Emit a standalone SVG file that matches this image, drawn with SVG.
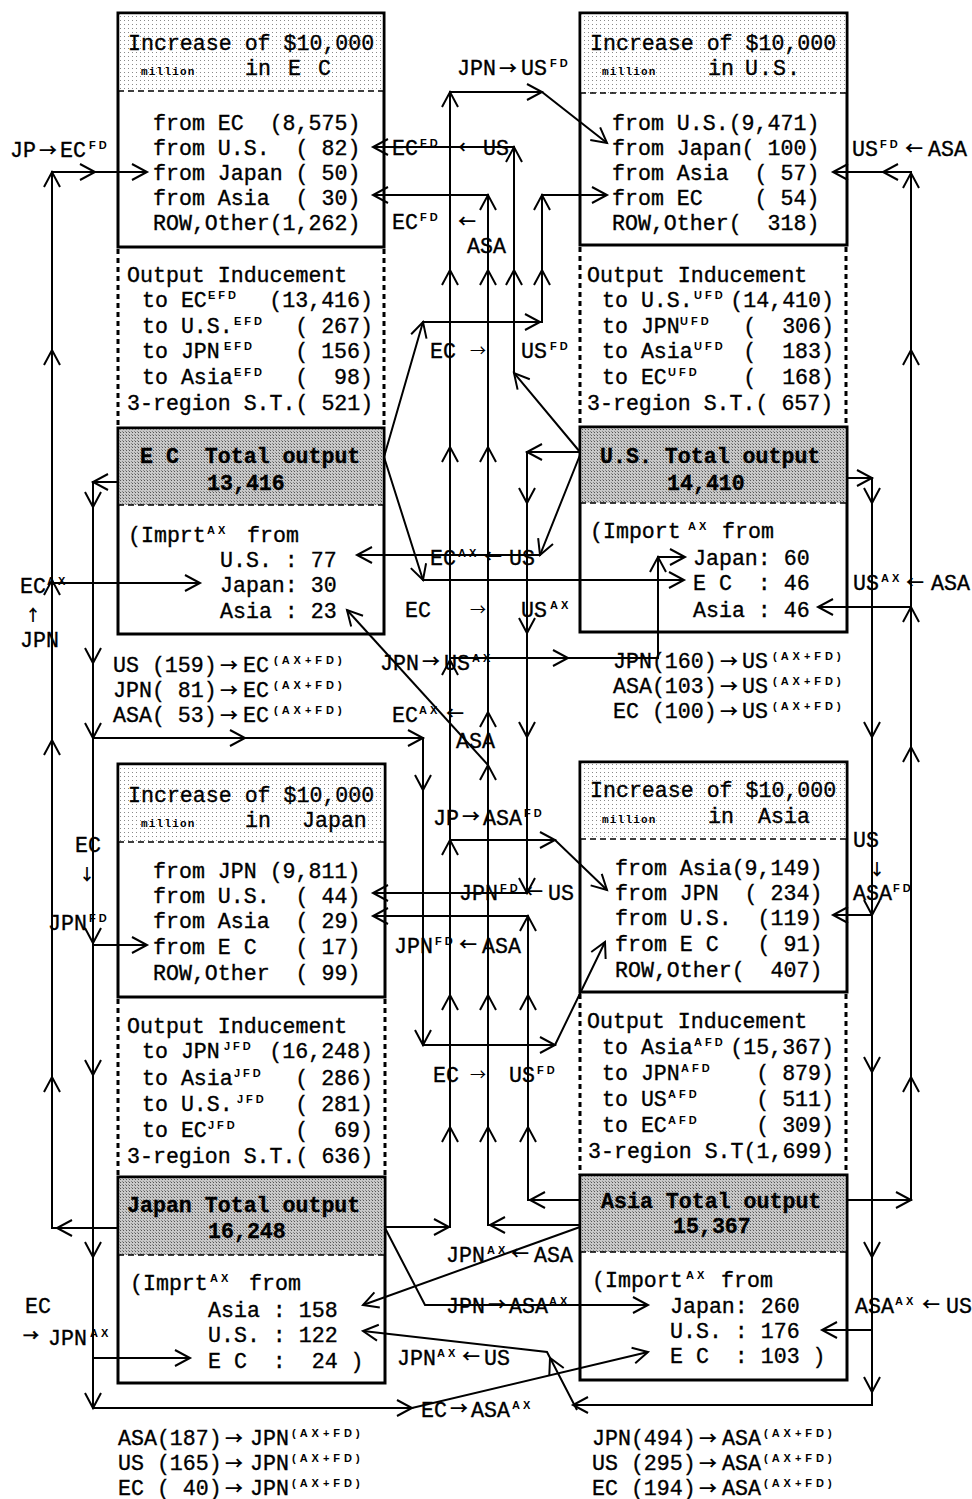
<svg xmlns="http://www.w3.org/2000/svg" xmlns:xlink="http://www.w3.org/1999/xlink" width="972" height="1499" viewBox="0 0 972 1499">
<defs>
<style>
.t{font-family:"Liberation Mono","DejaVu Sans Mono",monospace;font-size:21.6px;fill:#000;stroke:#000;stroke-width:0.35px}
.b{font-weight:bold}
.s{font-family:"Liberation Sans",Arial,sans-serif;font-size:11px;font-weight:bold;letter-spacing:3px;fill:#000;stroke:none}
.sp{font-family:"Liberation Sans",Arial,sans-serif;font-size:11px;font-weight:bold;letter-spacing:4px;fill:#000;stroke:none}
.a{font-family:"Noto Sans CJK JP","DejaVu Sans",sans-serif;font-size:18px;fill:#000;stroke:none;font-weight:bold}
.as{font-family:"Noto Sans CJK JP","DejaVu Sans",sans-serif;font-size:16px;fill:#000;stroke:none}
.av{font-family:"Noto Sans CJK JP","DejaVu Sans",sans-serif;font-size:16px;fill:#000;font-weight:bold}
.m{font-family:"Liberation Mono",monospace;font-size:11px;font-weight:bold;letter-spacing:1.2px;fill:#000}
.ln{fill:none;stroke:#000;stroke-width:2}
.box{fill:#fff;stroke:#000;stroke-width:3}
.dot{fill:none;stroke:#000;stroke-width:3;stroke-dasharray:5 4}
.dash{fill:none;stroke:#000;stroke-width:1.5;stroke-dasharray:6 4}
</style>
<pattern id="pl" width="4" height="4" patternUnits="userSpaceOnUse"><rect width="4" height="4" fill="#fff"/><rect width="1" height="1" fill="#8a8a8a"/></pattern>
<pattern id="pd" width="3" height="3" patternUnits="userSpaceOnUse"><rect width="3" height="3" fill="#c8c8c8"/><rect width="1" height="1" fill="#555"/><rect x="2" y="2" width="1" height="1" fill="#888"/></pattern>
<path id="cv" d="M-15,-8L0,0L-15,8" class="ln"/>
</defs>
<rect width="972" height="1499" fill="#fff"/>

<!-- EC increase -->
<g id="ec-increase">
<rect class="box" x="118" y="13" width="266" height="234"/>
<rect x="119.5" y="14.5" width="263" height="76.5" fill="url(#pl)"/>
<line class="dash" x1="118" y1="91" x2="384" y2="91"/>
<text class="t" x="128" y="50">Increase of $10,000</text>
<text class="m" x="141" y="75">million</text>
<text class="t" x="245" y="75">in</text>
<text class="t" x="288" y="75" letter-spacing="2">E C</text>
<text class="t" xml:space="preserve" x="153" y="130">from EC  (8,575)</text>
<text class="t" xml:space="preserve" x="153" y="155">from U.S.  ( 82)</text>
<text class="t" xml:space="preserve" x="153" y="180">from Japan ( 50)</text>
<text class="t" xml:space="preserve" x="153" y="205">from Asia  ( 30)</text>
<text class="t" xml:space="preserve" x="153" y="230">ROW,Other(1,262)</text>
</g>
<g id="ec-inducement">
<line class="dot" x1="118" y1="249" x2="118" y2="428"/>
<line class="dot" x1="384" y1="249" x2="384" y2="428"/>
<text class="t" x="127" y="282">Output Inducement</text>
<text class="t" x="142" y="307">to EC<tspan class="s" x="208" y="299">EFD</tspan></text>
<text class="t" x="373" y="307" text-anchor="end">(13,416)</text>
<text class="t" x="142" y="333">to U.S.<tspan class="s" x="234" y="325">EFD</tspan></text>
<text class="t" xml:space="preserve" x="373" y="333" text-anchor="end">( 267)</text>
<text class="t" x="142" y="358">to JPN<tspan class="s" x="224" y="350">EFD</tspan></text>
<text class="t" xml:space="preserve" x="373" y="358" text-anchor="end">( 156)</text>
<text class="t" x="142" y="384">to Asia<tspan class="s" x="234" y="376">EFD</tspan></text>
<text class="t" xml:space="preserve" x="373" y="384" text-anchor="end">(  98)</text>
<text class="t" x="127" y="410">3-region S.T.( 521)</text>
</g>
<g id="ec-total">
<rect class="box" x="118" y="428" width="266" height="206"/>
<rect x="119.5" y="429.5" width="263" height="75.5" fill="url(#pd)"/>
<line class="dash" x1="118" y1="505" x2="384" y2="505"/>
<text class="t b" xml:space="preserve" x="140" y="463">E C  Total output</text>
<text class="t b" x="207" y="490">13,416</text>
<text class="t" x="128" y="542">(Imprt<tspan class="s" x="207" y="534">AX</tspan><tspan x="247" y="542">from</tspan></text>
<text class="t" x="220" y="567">U.S. : 77</text>
<text class="t" x="220" y="592">Japan: 30</text>
<text class="t" x="220" y="618">Asia : 23</text>
</g>
<g id="ec-flows-label">
<text class="t" xml:space="preserve" y="672"><tspan x="113">US (159)</tspan><tspan class="a" x="220">→</tspan><tspan x="243">EC</tspan><tspan class="sp" x="274" y="664">(AX+FD)</tspan></text>
<text class="t" xml:space="preserve" y="697"><tspan x="113">JPN( 81)</tspan><tspan class="a" x="220">→</tspan><tspan x="243">EC</tspan><tspan class="sp" x="274" y="689">(AX+FD)</tspan></text>
<text class="t" xml:space="preserve" y="722"><tspan x="113">ASA( 53)</tspan><tspan class="a" x="220">→</tspan><tspan x="243">EC</tspan><tspan class="sp" x="274" y="714">(AX+FD)</tspan></text>
</g>

<!-- US -->
<g id="us-increase">
<rect class="box" x="580" y="13" width="267" height="232"/>
<rect x="581.5" y="14.5" width="264" height="78.5" fill="url(#pl)"/>
<line class="dash" x1="580" y1="93" x2="847" y2="93"/>
<text class="t" x="590" y="50">Increase of $10,000</text>
<text class="m" x="602" y="75">million</text>
<text class="t" x="708" y="75">in</text>
<text class="t" x="745" y="75" letter-spacing="1">U.S.</text>
<text class="t" xml:space="preserve" x="612" y="130">from U.S.(9,471)</text>
<text class="t" xml:space="preserve" x="612" y="155">from Japan( 100)</text>
<text class="t" xml:space="preserve" x="612" y="180">from Asia  ( 57)</text>
<text class="t" xml:space="preserve" x="612" y="205">from EC    ( 54)</text>
<text class="t" xml:space="preserve" x="612" y="230">ROW,Other(  318)</text>
</g>
<g id="us-inducement">
<line class="dot" x1="580" y1="247" x2="580" y2="427"/>
<line class="dot" x1="846" y1="247" x2="846" y2="427"/>
<text class="t" x="587" y="282">Output Inducement</text>
<text class="t" x="602" y="307">to U.S.<tspan class="s" x="694" y="299">UFD</tspan></text>
<text class="t" x="834" y="307" text-anchor="end">(14,410)</text>
<text class="t" x="602" y="333">to JPN<tspan class="s" x="680" y="325">UFD</tspan></text>
<text class="t" xml:space="preserve" x="834" y="333" text-anchor="end">(  306)</text>
<text class="t" x="602" y="358">to Asia<tspan class="s" x="694" y="350">UFD</tspan></text>
<text class="t" xml:space="preserve" x="834" y="358" text-anchor="end">(  183)</text>
<text class="t" x="602" y="384">to EC<tspan class="s" x="668" y="376">UFD</tspan></text>
<text class="t" xml:space="preserve" x="834" y="384" text-anchor="end">(  168)</text>
<text class="t" x="587" y="410">3-region S.T.( 657)</text>
</g>
<g id="us-total">
<rect class="box" x="580" y="427" width="267" height="205"/>
<rect x="581.5" y="428.5" width="264" height="74.5" fill="url(#pd)"/>
<line class="dash" x1="580" y1="503" x2="847" y2="503"/>
<text class="t b" x="600" y="463">U.S. Total output</text>
<text class="t b" x="667" y="490">14,410</text>
<text class="t" x="590" y="538">(Import<tspan class="s" x="688" y="530">AX</tspan><tspan x="722" y="538">from</tspan></text>
<text class="t" x="693" y="565">Japan: 60</text>
<text class="t" xml:space="preserve" x="693" y="590">E C  : 46</text>
<text class="t" x="693" y="617">Asia : 46</text>
</g>
<g id="us-flows-label">
<text class="t" xml:space="preserve" y="668"><tspan x="613">JPN(160)</tspan><tspan class="a" x="720">→</tspan><tspan x="742">US</tspan><tspan class="sp" x="773" y="660">(AX+FD)</tspan></text>
<text class="t" xml:space="preserve" y="693"><tspan x="613">ASA(103)</tspan><tspan class="a" x="720">→</tspan><tspan x="742">US</tspan><tspan class="sp" x="773" y="685">(AX+FD)</tspan></text>
<text class="t" xml:space="preserve" y="718"><tspan x="613">EC (100)</tspan><tspan class="a" x="720">→</tspan><tspan x="742">US</tspan><tspan class="sp" x="773" y="710">(AX+FD)</tspan></text>
</g>

<!-- Japan -->
<g id="jpn-increase">
<rect class="box" x="118" y="764" width="267" height="233"/>
<rect x="119.5" y="765.5" width="264" height="76.5" fill="url(#pl)"/>
<line class="dash" x1="118" y1="842" x2="385" y2="842"/>
<text class="t" x="128" y="802">Increase of $10,000</text>
<text class="m" x="141" y="827">million</text>
<text class="t" x="245" y="827">in</text>
<text class="t" x="302" y="827">Japan</text>
<text class="t" xml:space="preserve" x="153" y="878">from JPN (9,811)</text>
<text class="t" xml:space="preserve" x="153" y="903">from U.S.  ( 44)</text>
<text class="t" xml:space="preserve" x="153" y="928">from Asia  ( 29)</text>
<text class="t" xml:space="preserve" x="153" y="954">from E C   ( 17)</text>
<text class="t" xml:space="preserve" x="153" y="980">ROW,Other  ( 99)</text>
</g>
<g id="jpn-inducement">
<line class="dot" x1="118" y1="999" x2="118" y2="1177"/>
<line class="dot" x1="385" y1="999" x2="385" y2="1177"/>
<text class="t" x="127" y="1033">Output Inducement</text>
<text class="t" x="142" y="1058">to JPN<tspan class="s" x="224" y="1050">JFD</tspan></text>
<text class="t" x="373" y="1058" text-anchor="end">(16,248)</text>
<text class="t" x="142" y="1085">to Asia<tspan class="s" x="234" y="1077">JFD</tspan></text>
<text class="t" xml:space="preserve" x="373" y="1085" text-anchor="end">( 286)</text>
<text class="t" x="142" y="1111">to U.S.<tspan class="s" x="237" y="1103">JFD</tspan></text>
<text class="t" xml:space="preserve" x="373" y="1111" text-anchor="end">( 281)</text>
<text class="t" x="142" y="1137">to EC<tspan class="s" x="208" y="1129">JFD</tspan></text>
<text class="t" xml:space="preserve" x="373" y="1137" text-anchor="end">(  69)</text>
<text class="t" x="127" y="1163">3-region S.T.( 636)</text>
</g>
<g id="jpn-total">
<rect class="box" x="118" y="1177" width="267" height="206"/>
<rect x="119.5" y="1178.5" width="264" height="76.5" fill="url(#pd)"/>
<line class="dash" x1="118" y1="1255" x2="385" y2="1255"/>
<text class="t b" x="127" y="1212">Japan Total output</text>
<text class="t b" x="208" y="1238">16,248</text>
<text class="t" x="130" y="1290">(Imprt<tspan class="s" x="210" y="1282">AX</tspan><tspan x="249" y="1290">from</tspan></text>
<text class="t" x="208" y="1317">Asia : 158</text>
<text class="t" x="208" y="1342">U.S. : 122</text>
<text class="t" xml:space="preserve" x="208" y="1368">E C  :  24 )</text>
</g>
<g id="jpn-flows-label">
<text class="t" xml:space="preserve" y="1445"><tspan x="118">ASA(187)</tspan><tspan class="a" x="225">→</tspan><tspan x="250">JPN</tspan><tspan class="sp" x="292" y="1437">(AX+FD)</tspan></text>
<text class="t" xml:space="preserve" y="1470"><tspan x="118">US (165)</tspan><tspan class="a" x="225">→</tspan><tspan x="250">JPN</tspan><tspan class="sp" x="292" y="1462">(AX+FD)</tspan></text>
<text class="t" xml:space="preserve" y="1495"><tspan x="118">EC ( 40)</tspan><tspan class="a" x="225">→</tspan><tspan x="250">JPN</tspan><tspan class="sp" x="292" y="1487">(AX+FD)</tspan></text>
</g>

<!-- Asia -->
<g id="asia-increase">
<rect class="box" x="580" y="762" width="267" height="230"/>
<rect x="581.5" y="763.5" width="264" height="75.5" fill="url(#pl)"/>
<line class="dash" x1="580" y1="839" x2="847" y2="839"/>
<text class="t" x="590" y="797">Increase of $10,000</text>
<text class="m" x="602" y="823">million</text>
<text class="t" x="708" y="823">in</text>
<text class="t" x="758" y="823">Asia</text>
<text class="t" xml:space="preserve" x="615" y="875">from Asia(9,149)</text>
<text class="t" xml:space="preserve" x="615" y="900">from JPN  ( 234)</text>
<text class="t" xml:space="preserve" x="615" y="925">from U.S.  (119)</text>
<text class="t" xml:space="preserve" x="615" y="951">from E C   ( 91)</text>
<text class="t" xml:space="preserve" x="615" y="977">ROW,Other(  407)</text>
</g>
<g id="asia-inducement">
<line class="dot" x1="580" y1="994" x2="580" y2="1175"/>
<line class="dot" x1="846" y1="994" x2="846" y2="1175"/>
<text class="t" x="587" y="1028">Output Inducement</text>
<text class="t" x="602" y="1054">to Asia<tspan class="s" x="694" y="1046">AFD</tspan></text>
<text class="t" x="834" y="1054" text-anchor="end">(15,367)</text>
<text class="t" x="602" y="1080">to JPN<tspan class="s" x="681" y="1072">AFD</tspan></text>
<text class="t" xml:space="preserve" x="834" y="1080" text-anchor="end">( 879)</text>
<text class="t" x="602" y="1106">to US<tspan class="s" x="668" y="1098">AFD</tspan></text>
<text class="t" xml:space="preserve" x="834" y="1106" text-anchor="end">( 511)</text>
<text class="t" x="602" y="1132">to EC<tspan class="s" x="668" y="1124">AFD</tspan></text>
<text class="t" xml:space="preserve" x="834" y="1132" text-anchor="end">( 309)</text>
<text class="t" x="588" y="1158">3-region S.T(1,699)</text>
</g>
<g id="asia-total">
<rect class="box" x="580" y="1175" width="267" height="205"/>
<rect x="581.5" y="1176.5" width="264" height="75.5" fill="url(#pd)"/>
<line class="dash" x1="580" y1="1252" x2="847" y2="1252"/>
<text class="t b" x="601" y="1208">Asia Total output</text>
<text class="t b" x="673" y="1233">15,367</text>
<text class="t" x="592" y="1287">(Import<tspan class="s" x="686" y="1279">AX</tspan><tspan x="721" y="1287">from</tspan></text>
<text class="t" x="670" y="1313">Japan: 260</text>
<text class="t" x="670" y="1338">U.S. : 176</text>
<text class="t" xml:space="preserve" x="670" y="1363">E C  : 103 )</text>
</g>
<g id="asia-flows-label">
<text class="t" xml:space="preserve" y="1445"><tspan x="592">JPN(494)</tspan><tspan class="a" x="699">→</tspan><tspan x="722">ASA</tspan><tspan class="sp" x="764" y="1437">(AX+FD)</tspan></text>
<text class="t" xml:space="preserve" y="1470"><tspan x="592">US (295)</tspan><tspan class="a" x="699">→</tspan><tspan x="722">ASA</tspan><tspan class="sp" x="764" y="1462">(AX+FD)</tspan></text>
<text class="t" xml:space="preserve" y="1495"><tspan x="592">EC (194)</tspan><tspan class="a" x="699">→</tspan><tspan x="722">ASA</tspan><tspan class="sp" x="764" y="1487">(AX+FD)</tspan></text>
</g>

<!-- connectors -->
<g id="connectors">
<path class="ln" d="M118,1228H52V172H147"/>
<path class="ln" d="M52,583H200"/>
<use xlink:href="#cv" transform="translate(57,1228) rotate(180)"/>
<use xlink:href="#cv" transform="translate(52,1077) rotate(-90)"/>
<use xlink:href="#cv" transform="translate(52,740) rotate(-90)"/>
<use xlink:href="#cv" transform="translate(52,580) rotate(-90)"/>
<use xlink:href="#cv" transform="translate(52,350) rotate(-90)"/>
<use xlink:href="#cv" transform="translate(52,172) rotate(-90)"/>
<use xlink:href="#cv" transform="translate(95,172)"/>
<use xlink:href="#cv" transform="translate(147,172)"/>
<use xlink:href="#cv" transform="translate(200,583)"/>

<path class="ln" d="M118,482H93V1408H412L648,1352"/>
<path class="ln" d="M93,738H423V1045H555L605,942"/>
<path class="ln" d="M93,945H147"/>
<path class="ln" d="M93,1358H190"/>
<use xlink:href="#cv" transform="translate(93,482) rotate(180)"/>
<use xlink:href="#cv" transform="translate(93,507) rotate(90)"/>
<use xlink:href="#cv" transform="translate(93,663) rotate(90)"/>
<use xlink:href="#cv" transform="translate(93,738) rotate(90)"/>
<use xlink:href="#cv" transform="translate(93,943) rotate(90)"/>
<use xlink:href="#cv" transform="translate(93,1075) rotate(90)"/>
<use xlink:href="#cv" transform="translate(93,1257) rotate(90)"/>
<use xlink:href="#cv" transform="translate(93,1408) rotate(90)"/>
<use xlink:href="#cv" transform="translate(245,738)"/>
<use xlink:href="#cv" transform="translate(423,738)"/>
<use xlink:href="#cv" transform="translate(423,790) rotate(90)"/>
<use xlink:href="#cv" transform="translate(423,1045) rotate(90)"/>
<use xlink:href="#cv" transform="translate(555,1045)"/>
<use xlink:href="#cv" transform="translate(605,942) rotate(-64.1)"/>
<use xlink:href="#cv" transform="translate(147,945)"/>
<use xlink:href="#cv" transform="translate(190,1358)"/>
<use xlink:href="#cv" transform="translate(412,1408)"/>
<use xlink:href="#cv" transform="translate(648,1352) rotate(-13.3)"/>

<path class="ln" d="M847,478H872V1405H575"/>
<path class="ln" d="M872,915H833"/>
<path class="ln" d="M872,1330H822"/>
<path class="ln" d="M577,1410L547,1352L363,1331"/>
<use xlink:href="#cv" transform="translate(872,478)"/>
<use xlink:href="#cv" transform="translate(872,503) rotate(90)"/>
<use xlink:href="#cv" transform="translate(872,737) rotate(90)"/>
<use xlink:href="#cv" transform="translate(872,915) rotate(90)"/>
<use xlink:href="#cv" transform="translate(872,1072) rotate(90)"/>
<use xlink:href="#cv" transform="translate(872,1257) rotate(90)"/>
<use xlink:href="#cv" transform="translate(872,1392) rotate(90)"/>
<use xlink:href="#cv" transform="translate(833,915) rotate(180)"/>
<use xlink:href="#cv" transform="translate(822,1330) rotate(180)"/>
<use xlink:href="#cv" transform="translate(573,1405) rotate(180)"/>
<use xlink:href="#cv" transform="translate(550,1358) rotate(-115.8)"/>
<use xlink:href="#cv" transform="translate(363,1331) rotate(186.5)"/>

<path class="ln" d="M847,1200H911V172H833"/>
<path class="ln" d="M911,607H818"/>
<use xlink:href="#cv" transform="translate(911,1200)"/>
<use xlink:href="#cv" transform="translate(911,1077) rotate(-90)"/>
<use xlink:href="#cv" transform="translate(911,747) rotate(-90)"/>
<use xlink:href="#cv" transform="translate(911,607) rotate(-90)"/>
<use xlink:href="#cv" transform="translate(911,350) rotate(-90)"/>
<use xlink:href="#cv" transform="translate(911,173) rotate(-90)"/>
<use xlink:href="#cv" transform="translate(883,172) rotate(180)"/>
<use xlink:href="#cv" transform="translate(833,172) rotate(180)"/>
<use xlink:href="#cv" transform="translate(818,607) rotate(180)"/>

<path class="ln" d="M385,1227H450V92H542L607,143"/>
<path class="ln" d="M450,840H555L607,890"/>
<path class="ln" d="M450,658H658V557H685"/>
<use xlink:href="#cv" transform="translate(449,1227)"/>
<use xlink:href="#cv" transform="translate(450,1127) rotate(-90)"/>
<use xlink:href="#cv" transform="translate(450,995) rotate(-90)"/>
<use xlink:href="#cv" transform="translate(450,840) rotate(-90)"/>
<use xlink:href="#cv" transform="translate(450,660) rotate(-90)"/>
<use xlink:href="#cv" transform="translate(450,447) rotate(-90)"/>
<use xlink:href="#cv" transform="translate(450,270) rotate(-90)"/>
<use xlink:href="#cv" transform="translate(450,92) rotate(-90)"/>
<use xlink:href="#cv" transform="translate(542,92)"/>
<use xlink:href="#cv" transform="translate(607,143) rotate(38.1)"/>
<use xlink:href="#cv" transform="translate(555,840)"/>
<use xlink:href="#cv" transform="translate(607,890) rotate(43.9)"/>
<use xlink:href="#cv" transform="translate(568,658)"/>
<use xlink:href="#cv" transform="translate(658,557) rotate(-90)"/>
<use xlink:href="#cv" transform="translate(685,557)"/>

<path class="ln" d="M580,1225H488V195H373"/>
<path class="ln" d="M488,765L347,610"/>
<use xlink:href="#cv" transform="translate(490,1225) rotate(180)"/>
<use xlink:href="#cv" transform="translate(488,1127) rotate(-90)"/>
<use xlink:href="#cv" transform="translate(488,995) rotate(-90)"/>
<use xlink:href="#cv" transform="translate(488,765) rotate(-90)"/>
<use xlink:href="#cv" transform="translate(488,712) rotate(-90)"/>
<use xlink:href="#cv" transform="translate(488,447) rotate(-90)"/>
<use xlink:href="#cv" transform="translate(488,270) rotate(-90)"/>
<use xlink:href="#cv" transform="translate(488,195) rotate(-90)"/>
<use xlink:href="#cv" transform="translate(373,195) rotate(180)"/>
<use xlink:href="#cv" transform="translate(347,610) rotate(-132.3)"/>

<path class="ln" d="M580,1200H528V916H373"/>
<use xlink:href="#cv" transform="translate(530,1200) rotate(180)"/>
<use xlink:href="#cv" transform="translate(528,1127) rotate(-90)"/>
<use xlink:href="#cv" transform="translate(528,995) rotate(-90)"/>
<use xlink:href="#cv" transform="translate(528,916) rotate(-90)"/>
<use xlink:href="#cv" transform="translate(373,916) rotate(180)"/>

<path class="ln" d="M580,452H527V893H373"/>
<use xlink:href="#cv" transform="translate(527,452) rotate(180)"/>
<use xlink:href="#cv" transform="translate(527,503) rotate(90)"/>
<use xlink:href="#cv" transform="translate(527,633) rotate(90)"/>
<use xlink:href="#cv" transform="translate(527,737) rotate(90)"/>
<use xlink:href="#cv" transform="translate(527,893) rotate(90)"/>
<use xlink:href="#cv" transform="translate(373,893) rotate(180)"/>

<path class="ln" d="M580,452L514,373V147H373"/>
<use xlink:href="#cv" transform="translate(514,373) rotate(-130.3)"/>
<use xlink:href="#cv" transform="translate(514,270) rotate(-90)"/>
<use xlink:href="#cv" transform="translate(514,147) rotate(-90)"/>
<use xlink:href="#cv" transform="translate(373,147) rotate(180)"/>

<path class="ln" d="M384,457L423,322H542V195H607"/>
<use xlink:href="#cv" transform="translate(423,322) rotate(-73.9)"/>
<use xlink:href="#cv" transform="translate(540,322)"/>
<use xlink:href="#cv" transform="translate(542,270) rotate(-90)"/>
<use xlink:href="#cv" transform="translate(542,195) rotate(-90)"/>
<use xlink:href="#cv" transform="translate(607,195)"/>

<path class="ln" d="M580,455L540,555H357"/>
<use xlink:href="#cv" transform="translate(540,555) rotate(111.8)"/>
<use xlink:href="#cv" transform="translate(357,555) rotate(180)"/>

<path class="ln" d="M384,457L423,580H684"/>
<use xlink:href="#cv" transform="translate(423,580) rotate(72.4)"/>
<use xlink:href="#cv" transform="translate(684,580)"/>

<path class="ln" d="M580,1227L363,1305"/>
<use xlink:href="#cv" transform="translate(363,1305) rotate(160.2)"/>
<path class="ln" d="M385,1228L425,1305H648"/>
<use xlink:href="#cv" transform="translate(648,1305)"/>
</g>

<!-- connector labels -->
<g id="connector-labels">
<text class="t" y="157"><tspan x="10">JP</tspan><tspan class="a" x="39">→</tspan><tspan x="60">EC</tspan><tspan class="s" x="89" y="149">FD</tspan></text>
<text class="t" y="155"><tspan x="392">EC</tspan><tspan class="s" x="420" y="147">FD</tspan><tspan class="a" x="458" y="154">←</tspan><tspan x="483" y="155">US</tspan></text>
<text class="t" y="229"><tspan x="392">EC</tspan><tspan class="s" x="420" y="221">FD</tspan><tspan class="a" x="458" y="228">←</tspan></text>
<text class="t" x="467" y="253">ASA</text>
<text class="t" y="75"><tspan x="457">JPN</tspan><tspan class="a" x="499">→</tspan><tspan x="521">US</tspan><tspan class="s" x="550" y="67">FD</tspan></text>
<text class="t" y="156"><tspan x="852">US</tspan><tspan class="s" x="880" y="148">FD</tspan><tspan class="a" x="905" y="155">←</tspan><tspan x="928" y="156">ASA</tspan></text>
<text class="t" y="358"><tspan x="430">EC</tspan><tspan class="as" x="470" y="356">→</tspan><tspan x="521" y="358">US</tspan><tspan class="s" x="550" y="350">FD</tspan></text>
<text class="t" y="565"><tspan x="430">EC</tspan><tspan class="s" x="458" y="557">AX</tspan><tspan class="a" x="484" y="563">←</tspan><tspan x="509" y="565">US</tspan></text>
<text class="t" y="617"><tspan x="405">EC</tspan><tspan class="as" x="470" y="615">→</tspan><tspan x="521" y="617">US</tspan><tspan class="s" x="550" y="609">AX</tspan></text>
<text class="t" y="670"><tspan x="380">JPN</tspan><tspan class="a" x="422" y="668">→</tspan><tspan x="444" y="670">US</tspan><tspan class="s" x="472" y="662">AX</tspan></text>
<text class="t" y="722"><tspan x="392">EC</tspan><tspan class="s" x="419" y="714">AX</tspan><tspan class="a" x="446" y="720">←</tspan></text>
<text class="t" x="456" y="748">ASA</text>
<text class="t" y="825"><tspan x="433">JP</tspan><tspan class="a" x="462" y="823">→</tspan><tspan x="483" y="825">ASA</tspan><tspan class="s" x="524" y="817">FD</tspan></text>
<text class="t" y="900"><tspan x="459">JPN</tspan><tspan class="s" x="500" y="892">FD</tspan><tspan class="a" x="525" y="898">←</tspan><tspan x="548" y="900">US</tspan></text>
<text class="t" y="953"><tspan x="394">JPN</tspan><tspan class="s" x="435" y="945">FD</tspan><tspan class="a" x="459" y="951">←</tspan><tspan x="482" y="953">ASA</tspan></text>
<text class="t" y="1082"><tspan x="433">EC</tspan><tspan class="as" x="470" y="1080">→</tspan><tspan x="509" y="1082">US</tspan><tspan class="s" x="537" y="1074">FD</tspan></text>
<text class="t" y="1262"><tspan x="446">JPN</tspan><tspan class="s" x="487" y="1254">AX</tspan><tspan class="a" x="511" y="1260">←</tspan><tspan x="534" y="1262">ASA</tspan></text>
<text class="t" y="1313"><tspan x="446">JPN</tspan><tspan class="a" x="488" y="1311">→</tspan><tspan x="509" y="1313">ASA</tspan><tspan class="s" x="549" y="1305">AX</tspan></text>
<text class="t" y="1365"><tspan x="397">JPN</tspan><tspan class="s" x="437" y="1357">AX</tspan><tspan class="a" x="462" y="1363">←</tspan><tspan x="484" y="1365">US</tspan></text>
<text class="t" y="1417"><tspan x="421">EC</tspan><tspan class="a" x="450" y="1415">→</tspan><tspan x="471" y="1417">ASA</tspan><tspan class="s" x="512" y="1409">AX</tspan></text>
<text class="t" y="1313"><tspan x="855">ASA</tspan><tspan class="s" x="895" y="1305">AX</tspan><tspan class="a" x="922" y="1311">←</tspan><tspan x="946" y="1313">US</tspan></text>
<text class="t" x="25" y="1313">EC</text>
<text class="t" y="1345"><tspan class="av" x="23" y="1341">→</tspan><tspan x="48" y="1345">JPN</tspan><tspan class="s" x="90" y="1337">AX</tspan></text>
<text class="t" y="593"><tspan x="20">EC</tspan><tspan class="s" x="47" y="585">AX</tspan></text>
<text class="av" x="25" y="621">↑</text>
<text class="t" x="20" y="647">JPN</text>
<text class="t" x="75" y="852">EC</text>
<text class="av" x="79" y="880">↓</text>
<text class="t" y="930"><tspan x="48">JPN</tspan><tspan class="s" x="89" y="922">FD</tspan></text>
<text class="t" y="590"><tspan x="853">US</tspan><tspan class="s" x="881" y="582">AX</tspan><tspan class="a" x="906" y="589">←</tspan><tspan x="931" y="590">ASA</tspan></text>
<text class="t" x="853" y="847">US</text>
<text class="av" x="869" y="875">↓</text>
<text class="t" y="900"><tspan x="853">ASA</tspan><tspan class="s" x="893" y="892">FD</tspan></text>
</g>
</svg>
